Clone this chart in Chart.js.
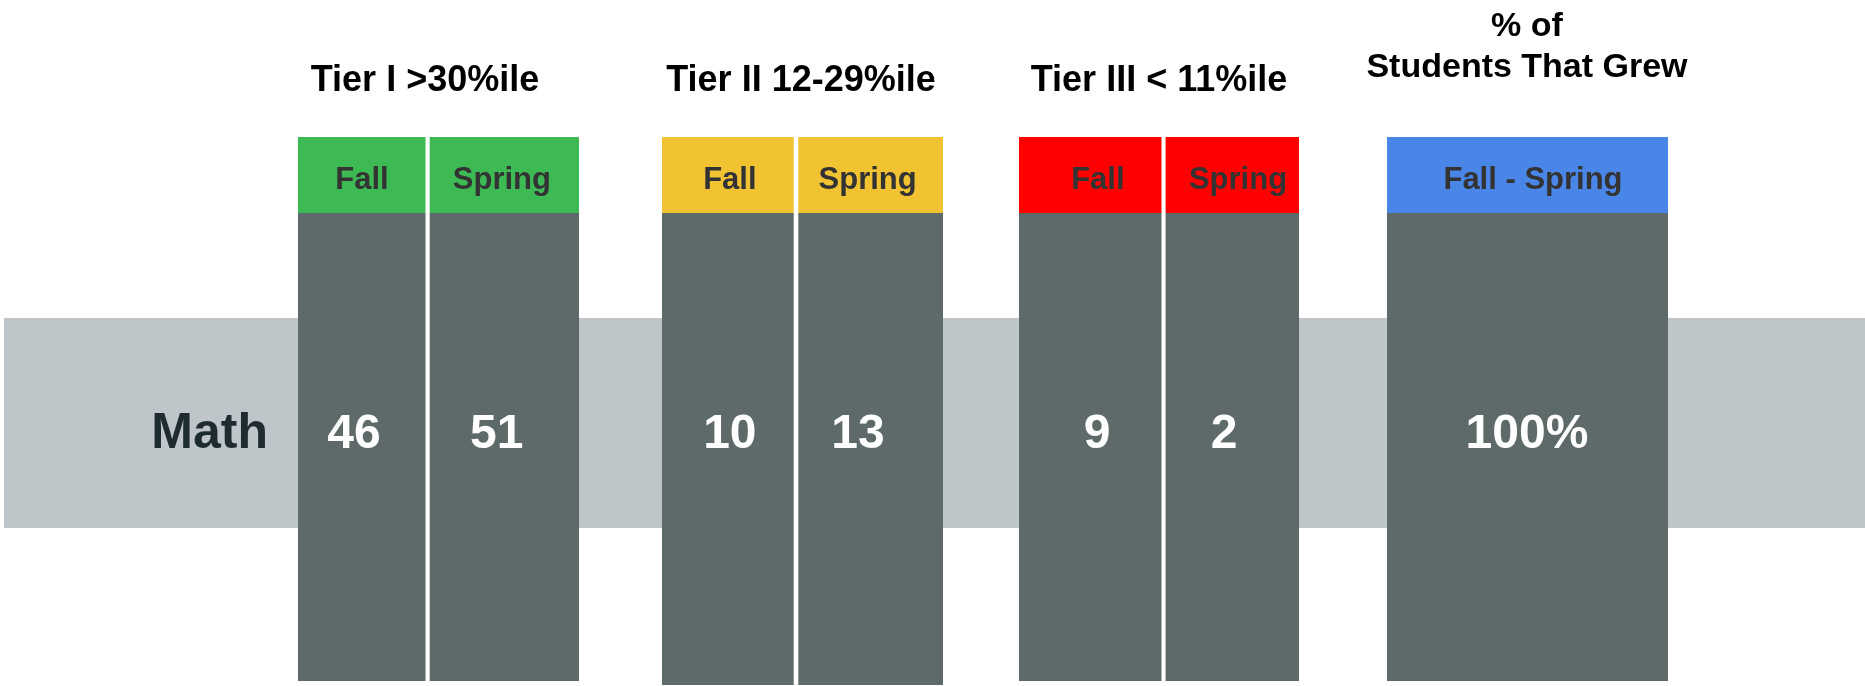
<!DOCTYPE html>
<html>
<head>
<meta charset="utf-8">
<style>
  html, body { margin: 0; padding: 0; background: #ffffff; overflow: hidden; }
  #wrap { width: 1865px; height: 686px; }
</style>
<script src="https://cdn.jsdelivr.net/npm/chart.js@4.4.1/dist/chart.umd.min.js"></script>
</head>
<body>
<div id="wrap"><canvas id="c" width="1865" height="686"></canvas></div>
<script>
// ---------------- DATA ----------------
const tierTitles = [['Tier I >30%ile'], ['Tier II 12-29%ile'], ['Tier III < 11%ile'], ['% of', 'Students That Grew']];
const periods = ['Fall', 'Spring', 'Fall', 'Spring', 'Fall', 'Spring', 'Fall - Spring'];
const rowLabel = 'Math';
const mathCounts = [46, 51, 10, 13, 9, 2];
const growthPercent = [100];

// ---------------- LAYOUT (positions / sizes, in canvas units) ----------------
const columnEdges = [[298, 425.5], [429.7, 579], [662, 793.7], [798.3, 943], [1019, 1161.5], [1165.6, 1299], [1387, 1668]];
const columnGroup = [0, 0, 1, 1, 2, 2, 3];
const columnBottoms = [681, 681, 685, 685, 681, 681, 681];
const headerRow = [137, 213];
const bandRow = [318, 528];
const bandSpan = [4, 1865];
const titleCenters = [425, 801, 1159, 1527];
const titleBaselines = [[90.7], [90.7], [90.7], [35.7, 77.3]];
const headerOffsets = [0.2, -2.5, 2, -3, 7.6, 5.7, 5.5];
const valueOffsets = [-7.8, -7.7, 2, -12.7, 6.8, -8.3, -0.5];
const headerBaseline = 189.3;
const valueBaseline = 448;
const rowLabelRight = 268;

// ---------------- STYLE ----------------
const groupColors = ['#3dba54', '#f1c232', '#ff0000', '#4a86e8'];
const bodyColor = '#5e696a';
const bandColor = '#bec6c9';
const FONT = '"Liberation Sans", Arial, Helvetica, sans-serif';

// ---------------- DATASETS ----------------
const mid = r => (r[0] + r[1]) / 2;
const span = r => r[1] - r[0];

const datasets = [];

// header cells (coloured)
datasets.push({
  label: 'headers',
  data: columnEdges.map(e => ({ x: e, y: mid(headerRow) })),
  backgroundColor: columnEdges.map((e, i) => groupColors[columnGroup[i]]),
  barThickness: span(headerRow),
  order: 1
});

// body cells, grouped by bottom edge
const bottoms = [...new Set(columnBottoms)];
bottoms.forEach(b => {
  const rows = [headerRow[1], b];
  const data = [];
  columnEdges.forEach((e, i) => { if (columnBottoms[i] === b) data.push({ x: e, y: mid(rows) }); });
  datasets.push({
    label: 'body' + b,
    data,
    backgroundColor: bodyColor,
    barThickness: span(rows),
    order: 2
  });
});

// white backing per group (fills the gap between Fall and Spring over the band)
const groupSpans = [0, 1, 2, 3].map(g => {
  const cols = columnEdges.filter((e, i) => columnGroup[i] === g);
  return [Math.min(...cols.map(c => c[0])), Math.max(...cols.map(c => c[1]))];
});
const backRows = [headerRow[0], Math.max(...columnBottoms)];
datasets.push({
  label: 'backing',
  data: groupSpans.map(s => ({ x: s, y: mid(backRows) })),
  backgroundColor: '#ffffff',
  barThickness: span(backRows),
  order: 3
});

// grey band for the Math row
datasets.push({
  label: 'band',
  data: [{ x: bandSpan, y: mid(bandRow) }],
  backgroundColor: bandColor,
  barThickness: span(bandRow),
  order: 4
});

// ---------------- TEXT PLUGIN ----------------
const textPlugin = {
  id: 'textPlugin',
  afterDatasetsDraw(chart) {
    const ctx = chart.ctx;
    const xs = chart.scales.x, ys = chart.scales.y;
    ctx.save();
    ctx.textBaseline = 'alphabetic';

    // titles
    ctx.fillStyle = '#000000';
    ctx.textAlign = 'center';
    tierTitles.forEach((lines, g) => {
      ctx.font = 'bold ' + (g === 3 ? 34 : 36) + 'px ' + FONT;
      lines.forEach((t, k) => {
        ctx.fillText(t, xs.getPixelForValue(titleCenters[g]), ys.getPixelForValue(titleBaselines[g][k]));
      });
    });

    // header labels
    ctx.fillStyle = '#333333';
    ctx.font = 'bold 31px ' + FONT;
    periods.forEach((p, i) => {
      const cx = mid(columnEdges[i]) + headerOffsets[i];
      ctx.fillText(p, xs.getPixelForValue(cx), ys.getPixelForValue(headerBaseline));
    });

    // values
    const values = mathCounts.map(String).concat(growthPercent.map(v => v + '%'));
    ctx.fillStyle = '#ffffff';
    ctx.font = 'bold 48px ' + FONT;
    values.forEach((v, i) => {
      const cx = mid(columnEdges[i]) + valueOffsets[i];
      ctx.fillText(v, xs.getPixelForValue(cx), ys.getPixelForValue(valueBaseline));
    });

    // row label
    ctx.fillStyle = '#1e2b31';
    ctx.font = 'bold 50px ' + FONT;
    ctx.textAlign = 'right';
    ctx.fillText(rowLabel, xs.getPixelForValue(rowLabelRight), ys.getPixelForValue(valueBaseline));

    ctx.restore();
  }
};

// ---------------- CHART ----------------
new Chart(document.getElementById('c'), {
  type: 'bar',
  data: { datasets },
  options: {
    indexAxis: 'y',
    responsive: false,
    animation: false,
    devicePixelRatio: 1,
    layout: { padding: 0 },
    datasets: { bar: { grouped: false, borderWidth: 0, inflateAmount: 0 } },
    plugins: { legend: { display: false }, tooltip: { enabled: false } },
    scales: {
      x: { type: 'linear', min: 0, max: 1865, display: false, offset: false },
      y: { type: 'linear', min: 0, max: 686, reverse: true, display: false, offset: false }
    }
  },
  plugins: [textPlugin]
});
</script>
</body>
</html>
